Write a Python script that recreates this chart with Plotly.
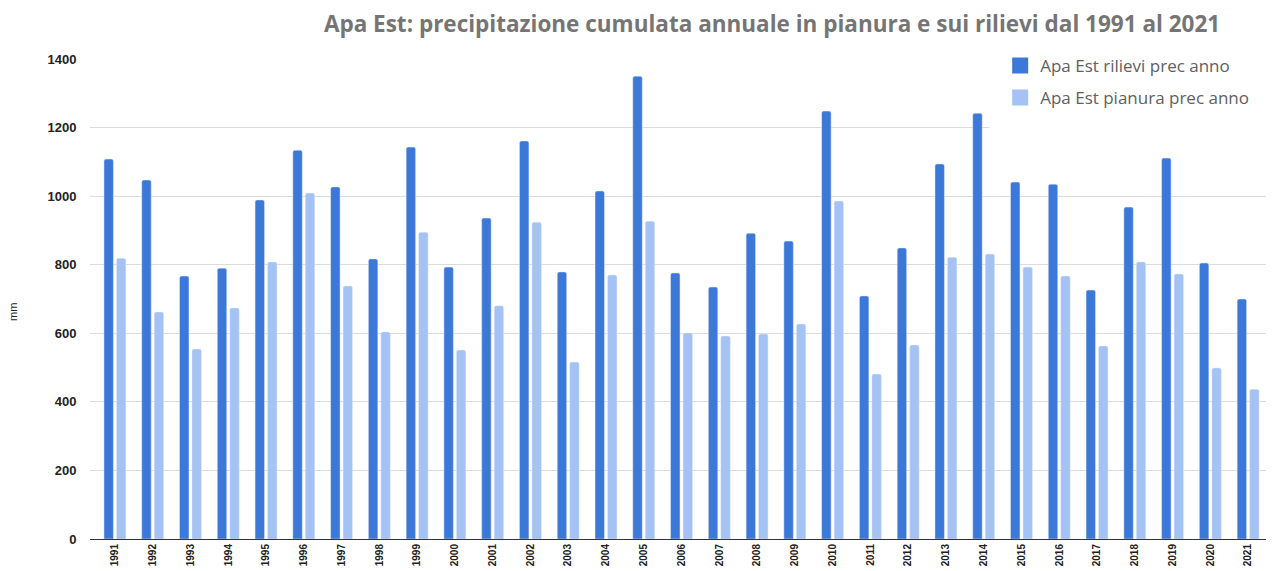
import plotly.graph_objects as go

years = [str(y) for y in range(1991, 2022)]
rilievi = [1108, 1047, 767, 790, 989, 1134, 1027, 817, 1143, 793,
           936, 1161, 779, 1015, 1350, 776, 735, 892, 869, 1248,
           709, 849, 1094, 1242, 1041, 1035, 726, 968, 1111, 805, 700]
pianura = [819, 662, 554, 674, 808, 1009, 738, 604, 895, 551,
           680, 924, 516, 770, 927, 601, 592, 598, 627, 986,
           481, 566, 822, 831, 793, 767, 563, 808, 773, 499, 437]
y_ticks = [0, 200, 400, 600, 800, 1000, 1200, 1400]
names = ["Apa Est rilievi prec anno", "Apa Est pianura prec anno"]
colors = ["#3c78d8", "#a4c2f4"]

title_text = "Apa Est: precipitazione cumulata annuale in pianura e sui rilievi dal 1991 al 2021"

fig = go.Figure()
for vals, nm, col in zip([rilievi, pianura], names, colors):
    fig.add_trace(go.Bar(x=years, y=vals, name=nm, marker=dict(color=col),
                         showlegend=False, legendgroup=nm))
for nm, col in zip(names, colors):
    fig.add_trace(go.Scatter(x=[None], y=[None], mode="markers", name=nm,
                             legendgroup=nm,
                             marker=dict(symbol="square", size=20, color=col)))

fig.update_layout(
    width=1266, height=563,
    margin=dict(l=82, r=7, t=51, b=32, autoexpand=False),
    paper_bgcolor="white", plot_bgcolor="white",
    barmode="group", bargap=0.34, bargroupgap=0.24,
    barcornerradius=2,
    title=dict(text=title_text, x=0.6035, xanchor="center", y=0.972, yanchor="middle",
               font=dict(family="Open Sans", size=22.5, color="#757575", weight="bold")),
    legend=dict(x=0.7733, xanchor="left", y=1.023, yanchor="top",
                bgcolor="rgba(0,0,0,0)", font=dict(family="Open Sans", size=17, color="#606060"),
                itemwidth=30, tracegroupgap=7, itemsizing="trace"),
    font=dict(family="Liberation Sans"),
    shapes=[dict(type="rect", xref="x", yref="y", x0=23.15, x1=31,
                 y0=1180, y1=1450, fillcolor="white", line=dict(width=0), layer="between")],
    annotations=[dict(text="mm", xref="paper", yref="paper", x=0, y=0.473,
                      xshift=-77, xanchor="center", yanchor="middle", textangle=-90,
                      showarrow=False, font=dict(size=11, color="#222222"))],
)
fig.update_yaxes(range=[0, 1400], tickvals=y_ticks, showgrid=True, gridcolor="#dcdcdc",
                 gridwidth=1, zeroline=False, automargin=False,
                 tickfont=dict(size=13, color="#222222", weight="bold"),
                 ticks="outside", ticklen=10, tickcolor="rgba(0,0,0,0)")
fig.update_xaxes(type="category", range=[-0.66, 30.5], tickangle=-90, showline=True,
                 linecolor="#333333", automargin=False,
                 linewidth=1, tickfont=dict(size=10, color="#222222", weight="bold"), ticks="")

fig.write_html("out.html")
